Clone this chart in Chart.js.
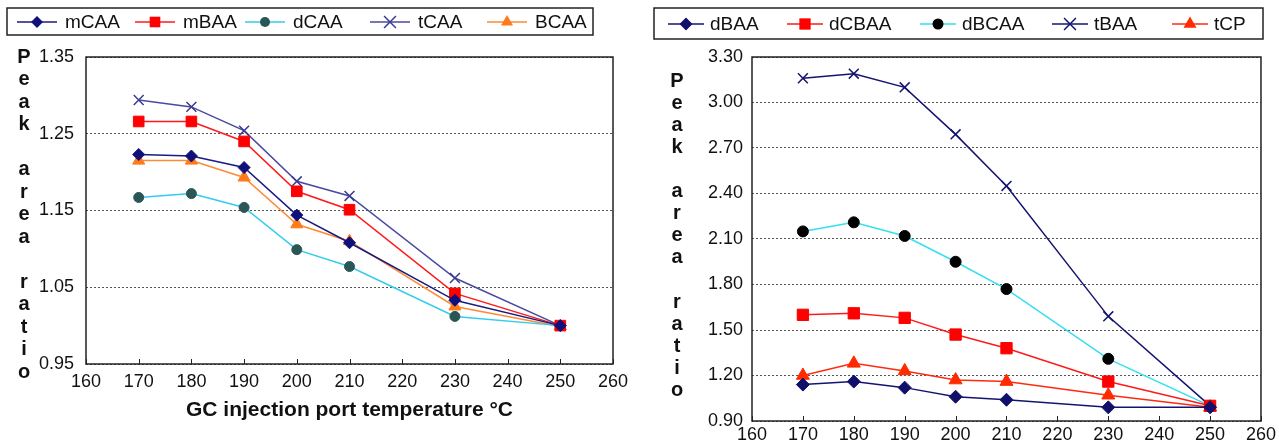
<!DOCTYPE html>
<html>
<head>
<meta charset="utf-8">
<script src="https://cdn.jsdelivr.net/npm/chart.js@4.4.1/dist/chart.umd.min.js"></script>
<style>
  html, body { margin: 0; padding: 0; background: #fff; }
  #wrap { position: relative; width: 1279px; height: 444px; }
  canvas { position: absolute; top: 0; }
  #left { left: 0; }
  #right { left: 640px; }
</style>
</head>
<body>
<div id="wrap">
  <canvas id="left" width="640" height="444"></canvas>
  <canvas id="right" width="639" height="444"></canvas>
</div>
<script>
// temperatures (°C)
const temps = [170, 180, 190, 200, 210, 230, 250];

// left panel
const mCAA = [1.223, 1.221, 1.206, 1.144, 1.108, 1.033, 1.000];
const mBAA = [1.266, 1.266, 1.240, 1.175, 1.151, 1.042, 1.000];
const dCAA = [1.167, 1.172, 1.154, 1.099, 1.077, 1.012, 1.000];
const tCAA = [1.294, 1.285, 1.254, 1.188, 1.169, 1.062, 1.000];
const BCAA = [1.215, 1.215, 1.193, 1.132, 1.110, 1.025, 0.999];

// right panel
const dBAA  = [1.14, 1.16, 1.12, 1.06, 1.04, 0.99, 0.99];
const dCBAA = [1.60, 1.61, 1.58, 1.47, 1.38, 1.16, 1.00];
const dBCAA = [2.15, 2.21, 2.12, 1.95, 1.77, 1.31, 1.00];
const tBAA  = [3.16, 3.19, 3.10, 2.79, 2.45, 1.59, 1.00];
const tCP   = [1.20, 1.28, 1.23, 1.17, 1.16, 1.07, 0.99];

const FONT = '"Liberation Sans", Arial, sans-serif';
Chart.defaults.font.family = FONT;
Chart.defaults.color = '#111';

function ds(label, values, line, mark, style, r) {
  return {
    label,
    data: temps.map((t, i) => ({ x: t, y: values[i] })),
    borderColor: line,
    backgroundColor: mark,
    pointBackgroundColor: mark,
    pointBorderColor: mark,
    pointStyle: style,
    pointRadius: r,
    pointBorderWidth: style === 'crossRot' ? 1.5 : 1,
    borderWidth: 1.5,
    tension: 0
  };
}

// little marker painter for the legend
function marker(ctx, style, x, y, r, color) {
  ctx.save();
  ctx.fillStyle = color;
  ctx.strokeStyle = color;
  ctx.lineWidth = 1.5;
  ctx.beginPath();
  if (style === 'rectRot') {
    ctx.moveTo(x, y - r); ctx.lineTo(x + r, y); ctx.lineTo(x, y + r); ctx.lineTo(x - r, y);
    ctx.closePath(); ctx.fill();
  } else if (style === 'rect') {
    const s = r * Math.SQRT1_2;
    ctx.rect(x - s, y - s, 2 * s, 2 * s); ctx.fill();
  } else if (style === 'circle') {
    ctx.arc(x, y, r, 0, Math.PI * 2); ctx.fill();
  } else if (style === 'triangle') {
    ctx.moveTo(x, y - r);
    ctx.lineTo(x + r * 0.866, y + r * 0.5);
    ctx.lineTo(x - r * 0.866, y + r * 0.5);
    ctx.closePath(); ctx.fill();
  } else if (style === 'crossRot') {
    const s = r * 0.85;
    ctx.moveTo(x - s, y - s); ctx.lineTo(x + s, y + s);
    ctx.moveTo(x + s, y - s); ctx.lineTo(x - s, y + s);
    ctx.stroke();
  }
  ctx.restore();
}

// plot frame + inside tick marks on the x axis
const frame = {
  id: 'frame',
  beforeDatasetsDraw(chart) {
    const { ctx, chartArea: a, scales: { x } } = chart;
    ctx.save();
    ctx.strokeStyle = '#222';
    ctx.lineWidth = 1.5;
    ctx.strokeRect(a.left, a.top, a.right - a.left, a.bottom - a.top);
    ctx.lineWidth = 1;
    ctx.beginPath();
    x.ticks.forEach(t => {
      const px = Math.round(x.getPixelForValue(t.value)) + 0.5;
      ctx.moveTo(px, a.bottom);
      ctx.lineTo(px, a.bottom - 5);
    });
    ctx.stroke();
    ctx.restore();
  }
};

// boxed legend
const boxLegend = {
  id: 'boxLegend',
  afterDraw(chart, args, o) {
    const ctx = chart.ctx;
    ctx.save();
    ctx.strokeStyle = '#222';
    ctx.lineWidth = 1.5;
    ctx.strokeRect(o.box[0], o.box[1], o.box[2] - o.box[0], o.box[3] - o.box[1]);
    ctx.font = '19px ' + FONT;
    ctx.textBaseline = 'middle';
    chart.data.datasets.forEach((d, i) => {
      const x0 = o.items[i];
      ctx.strokeStyle = d.borderColor;
      ctx.lineWidth = 1.5;
      ctx.beginPath();
      ctx.moveTo(x0, o.y);
      ctx.lineTo(x0 + o.iconW, o.y);
      ctx.stroke();
      marker(ctx, d.pointStyle, x0 + o.iconW / 2, o.y, d.pointRadius, d.pointBackgroundColor);
      ctx.fillStyle = '#111';
      ctx.fillText(d.label, x0 + o.iconW + o.gap, o.y + 1);
    });
    ctx.restore();
  }
};

// stacked letters for the y title
const yLetters = {
  id: 'yLetters',
  afterDraw(chart, args, o) {
    const ctx = chart.ctx;
    ctx.save();
    ctx.font = 'bold 20px ' + FONT;
    ctx.textAlign = 'center';
    ctx.textBaseline = 'middle';
    ctx.fillStyle = '#111';
    o.text.split('').forEach((ch, i) => {
      if (ch !== ' ') ctx.fillText(ch, o.x, o.y0 + i * o.step);
    });
    ctx.restore();
  }
};

function xScale(pad, extra) {
  return Object.assign({
    type: 'linear', min: 160, max: 260,
    ticks: { stepSize: 10, font: { size: 18 }, color: '#111', padding: pad },
    grid: { display: false, drawTicks: false },
    border: { display: false }
  }, extra);
}

function yScale(min, max, step, pad) {
  return {
    min, max,
    ticks: { stepSize: step, font: { size: 18 }, color: '#111', padding: pad, callback: v => v.toFixed(2) },
    grid: { color: '#555', lineWidth: 1, drawTicks: false },
    border: { display: false, dash: [2, 2] },
    afterFit: s => { s.width = 52; }
  };
}

new Chart(document.getElementById('left'), {
  type: 'line',
  data: {
    datasets: [
      ds('mCAA', mCAA, '#1a1a80', '#10107a', 'rectRot', 6),
      ds('mBAA', mBAA, '#ff1a1a', '#ff0000', 'rect', 7.5),
      ds('dCAA', dCAA, '#33ccee', '#2a5656', 'circle', 5),
      ds('tCAA', tCAA, '#4a4aa0', '#3a3a90', 'crossRot', 7),
      ds('BCAA', BCAA, '#ff8a33', '#ff7a1a', 'triangle', 7)
    ]
  },
  options: {
    responsive: false,
    animation: false,
    layout: { padding: { left: 34, right: 27, top: 57, bottom: 16 } },
    plugins: {
      legend: { display: false },
      tooltip: { enabled: false },
      boxLegend: { box: [7, 8, 593, 35], y: 22, items: [17, 135, 245, 370, 487], iconW: 40, gap: 8 },
      yLetters: { text: 'Peak area ratio', x: 24, y0: 57, step: 22.5 }
    },
    scales: {
      x: xScale(7, {
        title: { display: true, text: 'GC injection port temperature °C', font: { size: 21, weight: 'bold' }, color: '#111', padding: { top: 0, bottom: 5 } },
        afterFit: s => { s.height = 64; }
      }),
      y: yScale(0.95, 1.35, 0.1, 12)
    }
  },
  plugins: [frame, boxLegend, yLetters]
});

new Chart(document.getElementById('right'), {
  type: 'line',
  data: {
    datasets: [
      ds('dBAA', dBAA, '#141470', '#10106a', 'rectRot', 6.5),
      ds('dCBAA', dCBAA, '#ff1a1a', '#ff0000', 'rect', 8),
      ds('dBCAA', dBCAA, '#33e0f0', '#000000', 'circle', 5.5),
      ds('tBAA', tBAA, '#141470', '#141470', 'crossRot', 7),
      ds('tCP', tCP, '#ff2a10', '#ff2a00', 'triangle', 7.5)
    ]
  },
  options: {
    responsive: false,
    animation: false,
    layout: { padding: { left: 60, right: 17, top: 57, bottom: 0 } },
    plugins: {
      legend: { display: false },
      tooltip: { enabled: false },
      boxLegend: { box: [14, 8, 623, 39], y: 24, items: [28, 147, 280, 412, 532], iconW: 36, gap: 6 },
      yLetters: { text: 'Peak area ratio', x: 37, y0: 81, step: 22.1 }
    },
    scales: {
      x: xScale(3, { afterFit: s => { s.height = 23; } }),
      y: yScale(0.9, 3.3, 0.3, 9)
    }
  },
  plugins: [frame, boxLegend, yLetters]
});
</script>
</body>
</html>
